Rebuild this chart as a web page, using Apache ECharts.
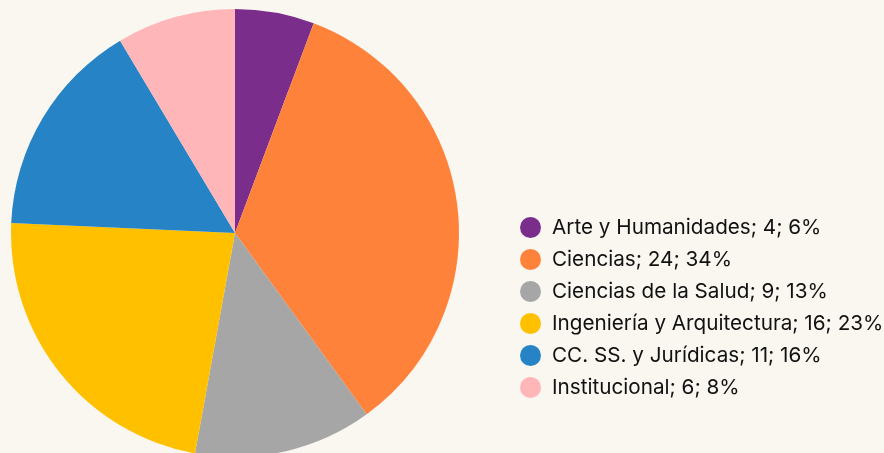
<!DOCTYPE html>
<html>
<head>
<meta charset="utf-8">
<script src="https://cdn.jsdelivr.net/npm/echarts@6/dist/echarts.min.js"></script>
<style>
  html, body { margin: 0; padding: 0; background: #faf7f0; }
  #chart { width: 884px; height: 453px; }
</style>
</head>
<body>
<div id="chart"></div>
<script>
const categories = ["Arte y Humanidades", "Ciencias", "Ciencias de la Salud", "Ingeniería y Arquitectura", "CC. SS. y Jurídicas", "Institucional"];
const values = [4, 24, 9, 16, 11, 6];
const percents = ["6%", "34%", "13%", "23%", "16%", "8%"];
const colors = ["#7b2d8b", "#ff823a", "#a6a6a6", "#ffc000", "#2683c6", "#ffb6b9"];

const chart = echarts.init(document.getElementById("chart"));
chart.setOption({
  backgroundColor: "#faf7f0",
  color: colors,
  legend: {
    orient: "vertical",
    left: 515,
    top: 212,
    icon: "circle",
    itemWidth: 21,
    itemHeight: 21,
    itemGap: 11,
    itemTextGap: 10,
    textStyle: {
      fontFamily: "Inter",
      fontSize: 20.7,
      color: "#111111",
      lineHeight: 21,
      padding: [0, 0, 0, 6],
    },
    formatter: (name) => {
      const i = categories.indexOf(name);
      return name + "; " + values[i] + "; " + percents[i];
    },
  },
  series: [
    {
      type: "pie",
      center: [235, 233],
      radius: 224,
      startAngle: 90,
      clockwise: true,
      label: { show: false },
      labelLine: { show: false },
      emphasis: { disabled: true },
      animation: false,
      data: categories.map((c, i) => ({ name: c, value: values[i] })),
    },
  ],
});
</script>
</body>
</html>
